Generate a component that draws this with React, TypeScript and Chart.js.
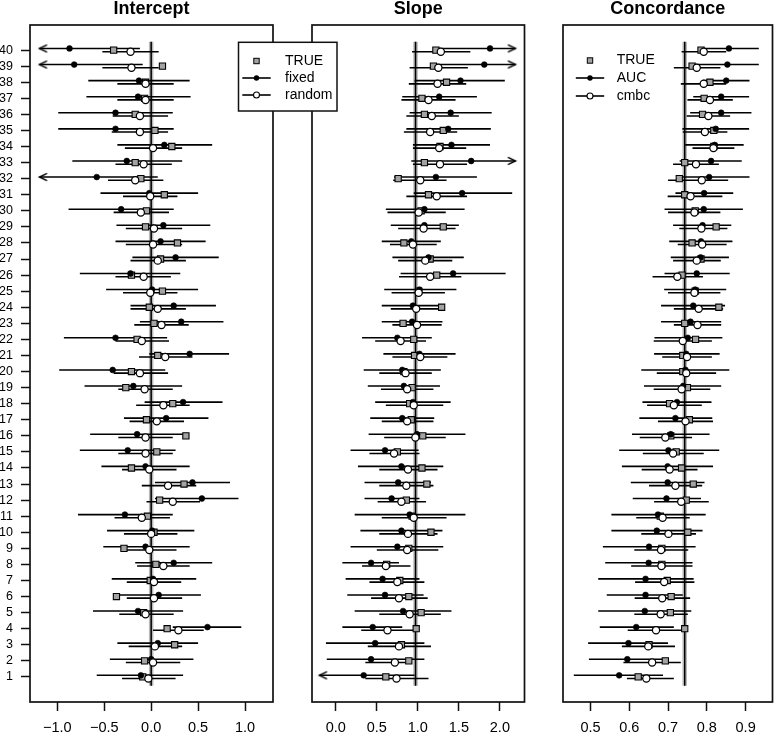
import React, { useEffect, useRef } from 'react';
import { Chart, registerables } from 'chart.js';

Chart.register(...registerables);

const FONT = "'Liberation Sans', Arial, Helvetica, sans-serif";
Chart.defaults.font.family = FONT;
Chart.defaults.color = '#000';

// ---------- categories (study rows, bottom to top) ----------
const rows = [1, 2, 3, 4, 5, 6, 7, 8, 9, 10, 11, 12, 13, 14, 15, 16, 17, 18, 19, 20,
  21, 22, 23, 24, 25, 26, 27, 28, 29, 30, 31, 32, 33, 34, 35, 36, 37, 38, 39, 40];

// ---------- Intercept ----------
const interceptTicks = [-1.0, -0.5, 0.0, 0.5, 1.0];
const interceptTrue = [-0.09, -0.07, 0.25, 0.17, -0.08, -0.37, -0.01, 0.05, -0.29, 0.03,
  -0.04, 0.09, 0.35, -0.21, 0.06, 0.37, -0.05, 0.23, -0.27, -0.21,
  0.07, -0.15, 0.03, -0.02, 0.12, -0.21, 0.10, 0.28, -0.06, -0.05,
  0.14, -0.11, -0.17, 0.22, 0.04, -0.17, -0.07, -0.06, 0.12, -0.40];
const interceptFixed = [-0.11, 0.00, 0.07, 0.60, -0.14, 0.08, 0.02, 0.24, -0.06, 0.01,
  -0.28, 0.54, 0.44, -0.06, -0.25, -0.15, 0.16, 0.34, -0.19, -0.41,
  0.41, -0.38, 0.32, 0.24, 0.01, -0.22, 0.26, 0.10, 0.13, -0.32,
  -0.02, -0.58, -0.26, 0.14, -0.38, -0.38, -0.14, -0.13, -0.82, -0.87];
const interceptFixedLo = [-0.58, -0.44, -0.36, 0.23, -0.62, -0.38, -0.42, -0.17, -0.51, -0.47,
  -0.78, 0.04, 0.04, -0.53, -0.76, -0.65, -0.29, -0.07, -0.71, -0.98,
  -0.02, -0.93, -0.12, -0.22, -0.48, -0.76, -0.20, -0.38, -0.37, -0.88,
  -0.54, -1.19, -0.84, -0.36, -0.99, -0.99, -0.69, -0.67, -1.19, -1.19];
const interceptFixedHi = [0.34, 0.45, 0.50, 0.96, 0.34, 0.53, 0.48, 0.65, 0.41, 0.46,
  0.23, 0.93, 0.84, 0.41, 0.26, 0.37, 0.61, 0.76, 0.33, 0.15,
  0.83, 0.17, 0.77, 0.69, 0.50, 0.31, 0.72, 0.58, 0.63, 0.24,
  0.50, 0.07, 0.33, 0.65, 0.24, 0.23, 0.42, 0.41, -0.09, -0.12];
const interceptRandom = [-0.03, 0.02, 0.04, 0.29, -0.06, 0.03, 0.03, 0.13, -0.02, 0.00,
  -0.10, 0.23, 0.18, -0.02, -0.06, -0.06, 0.06, 0.13, -0.07, -0.12,
  0.15, -0.10, 0.11, 0.07, -0.01, -0.08, 0.07, 0.02, 0.03, -0.11,
  -0.01, -0.17, -0.08, 0.02, -0.12, -0.12, -0.06, -0.06, -0.21, -0.22];
const interceptRandomLo = [-0.31, -0.27, -0.24, 0.02, -0.34, -0.26, -0.26, -0.15, -0.30, -0.29,
  -0.39, -0.05, -0.10, -0.31, -0.35, -0.35, -0.23, -0.16, -0.35, -0.40,
  -0.13, -0.38, -0.18, -0.22, -0.30, -0.38, -0.22, -0.27, -0.27, -0.40,
  -0.30, -0.46, -0.38, -0.28, -0.42, -0.41, -0.36, -0.36, -0.52, -0.52];
const interceptRandomHi = [0.26, 0.31, 0.33, 0.56, 0.24, 0.33, 0.32, 0.41, 0.27, 0.28,
  0.20, 0.52, 0.48, 0.27, 0.23, 0.23, 0.35, 0.41, 0.23, 0.18,
  0.44, 0.19, 0.40, 0.37, 0.28, 0.21, 0.37, 0.33, 0.33, 0.19,
  0.28, 0.13, 0.22, 0.33, 0.18, 0.18, 0.24, 0.24, 0.08, 0.08];
const interceptArrows = [{ row: 32, side: 'left' }, { row: 39, side: 'left' }, { row: 40, side: 'left' }];

// ---------- Slope ----------
const slopeTicks = [0.0, 0.5, 1.0, 1.5, 2.0];
const slopeTrue = [0.61, 0.89, 0.80, 0.98, 1.04, 0.89, 0.78, 0.62, 0.89, 1.16,
  0.93, 0.86, 1.11, 1.05, 0.75, 1.06, 0.92, 0.90, 0.93, 0.83,
  0.96, 0.95, 0.82, 1.29, 1.01, 1.23, 1.15, 0.83, 1.31, 1.04,
  1.13, 0.76, 1.08, 1.27, 1.31, 1.08, 1.05, 1.35, 1.19, 1.22];
const slopeFixed = [0.34, 0.43, 0.48, 0.45, 0.82, 0.60, 0.57, 0.43, 0.75, 0.80,
  0.90, 0.68, 0.76, 0.80, 0.60, 0.99, 0.81, 0.94, 0.83, 0.81,
  1.02, 0.75, 0.93, 0.94, 1.02, 1.43, 1.13, 0.92, 1.08, 1.08,
  1.54, 1.22, 1.65, 1.41, 1.37, 1.40, 1.26, 1.52, 1.81, 1.88];
const slopeFixedLo = [-0.20, -0.11, -0.12, 0.08, 0.23, 0.14, 0.12, 0.08, 0.18, 0.30,
  0.23, 0.35, 0.35, 0.27, 0.18, 0.40, 0.42, 0.48, 0.39, 0.34,
  0.58, 0.32, 0.56, 0.56, 0.59, 0.79, 0.69, 0.56, 0.67, 0.61,
  0.95, 0.71, 0.92, 0.94, 0.86, 0.90, 0.81, 0.96, 1.18, 1.24];
const slopeFixedHi = [0.96, 1.08, 1.08, 0.81, 1.41, 1.07, 1.02, 0.77, 1.31, 1.30,
  1.58, 1.02, 1.16, 1.31, 1.01, 1.58, 1.20, 1.40, 1.27, 1.28,
  1.46, 1.17, 1.30, 1.30, 1.47, 2.07, 1.56, 1.28, 1.50, 1.57,
  2.15, 1.72, 2.19, 1.88, 1.89, 1.90, 1.72, 2.06, 2.19, 2.19];
const slopeRandom = [0.74, 0.72, 0.77, 0.63, 0.90, 0.77, 0.75, 0.61, 0.87, 0.88,
  0.95, 0.80, 0.86, 0.88, 0.71, 0.97, 0.87, 0.95, 0.87, 0.85,
  1.03, 0.79, 0.99, 0.98, 1.01, 1.15, 1.09, 0.94, 1.07, 1.01,
  1.23, 1.03, 1.27, 1.26, 1.15, 1.17, 1.13, 1.24, 1.25, 1.28];
const slopeRandomLo = [0.36, 0.36, 0.39, 0.31, 0.53, 0.43, 0.41, 0.32, 0.50, 0.53,
  0.56, 0.51, 0.53, 0.53, 0.41, 0.59, 0.56, 0.61, 0.55, 0.53,
  0.69, 0.48, 0.69, 0.67, 0.68, 0.77, 0.76, 0.66, 0.76, 0.63,
  0.86, 0.70, 0.94, 0.94, 0.83, 0.86, 0.80, 0.89, 0.90, 0.93];
const slopeRandomHi = [1.13, 0.93, 1.16, 1.00, 1.28, 1.12, 1.08, 0.91, 1.25, 1.24,
  1.35, 1.10, 1.19, 1.24, 1.02, 1.34, 1.19, 1.31, 1.19, 1.17,
  1.36, 1.10, 1.29, 1.32, 1.33, 1.53, 1.42, 1.23, 1.46, 1.34,
  1.60, 1.35, 1.60, 1.59, 1.48, 1.50, 1.46, 1.59, 1.61, 1.64];
const slopeArrows = [{ row: 1, side: 'left' }, { row: 33, side: 'right' }, { row: 39, side: 'right' }, { row: 40, side: 'right' }];

// ---------- Concordance ----------
const concTicks = [0.5, 0.6, 0.7, 0.8, 0.9];
const concTrue = [0.623, 0.693, 0.651, 0.743, 0.706, 0.708, 0.698, 0.684, 0.684, 0.751,
  0.680, 0.747, 0.765, 0.735, 0.721, 0.707, 0.755, 0.704, 0.750, 0.738,
  0.738, 0.771, 0.743, 0.831, 0.770, 0.736, 0.785, 0.762, 0.824, 0.770,
  0.743, 0.729, 0.743, 0.818, 0.818, 0.789, 0.793, 0.808, 0.762, 0.785];
const concAuc = [0.574, 0.595, 0.598, 0.618, 0.640, 0.642, 0.642, 0.650, 0.651, 0.671,
  0.674, 0.696, 0.699, 0.699, 0.701, 0.707, 0.719, 0.723, 0.739, 0.745,
  0.747, 0.751, 0.758, 0.765, 0.770, 0.774, 0.784, 0.785, 0.789, 0.792,
  0.793, 0.806, 0.811, 0.820, 0.823, 0.837, 0.837, 0.850, 0.853, 0.857];
const concAucLo = [0.457, 0.496, 0.494, 0.524, 0.520, 0.542, 0.520, 0.538, 0.532, 0.554,
  0.554, 0.609, 0.604, 0.581, 0.574, 0.607, 0.626, 0.634, 0.638, 0.631,
  0.664, 0.665, 0.682, 0.682, 0.690, 0.691, 0.707, 0.703, 0.713, 0.691,
  0.719, 0.725, 0.730, 0.744, 0.737, 0.757, 0.765, 0.790, 0.772, 0.780];
const concAucHi = [0.687, 0.699, 0.700, 0.715, 0.760, 0.738, 0.766, 0.763, 0.771, 0.789,
  0.797, 0.785, 0.794, 0.816, 0.832, 0.807, 0.814, 0.812, 0.837, 0.858,
  0.833, 0.840, 0.837, 0.847, 0.850, 0.859, 0.857, 0.866, 0.863, 0.893,
  0.868, 0.910, 0.890, 0.895, 0.909, 0.915, 0.909, 0.910, 0.934, 0.934];
const concCmbc = [0.644, 0.659, 0.649, 0.669, 0.681, 0.685, 0.690, 0.683, 0.682, 0.701,
  0.686, 0.734, 0.719, 0.704, 0.713, 0.693, 0.745, 0.715, 0.735, 0.747,
  0.749, 0.738, 0.776, 0.779, 0.768, 0.724, 0.774, 0.788, 0.786, 0.768,
  0.758, 0.787, 0.772, 0.817, 0.795, 0.804, 0.808, 0.792, 0.774, 0.792];
const concCmbcLo = [0.594, 0.585, 0.581, 0.596, 0.613, 0.614, 0.615, 0.605, 0.613, 0.631,
  0.618, 0.664, 0.651, 0.632, 0.635, 0.627, 0.674, 0.646, 0.663, 0.671,
  0.685, 0.663, 0.715, 0.715, 0.700, 0.660, 0.713, 0.725, 0.729, 0.700,
  0.699, 0.700, 0.713, 0.763, 0.738, 0.748, 0.750, 0.733, 0.715, 0.735];
const concCmbcHi = [0.715, 0.733, 0.718, 0.742, 0.751, 0.757, 0.768, 0.763, 0.752, 0.772,
  0.756, 0.805, 0.788, 0.776, 0.792, 0.762, 0.816, 0.787, 0.809, 0.824,
  0.813, 0.813, 0.837, 0.842, 0.835, 0.790, 0.836, 0.851, 0.853, 0.835,
  0.840, 0.855, 0.831, 0.871, 0.853, 0.860, 0.867, 0.850, 0.835, 0.850];
const concArrows: { row: number; side: string }[] = [];

// ---------- styling constants ----------
const SQUARE_FILL = '#a3a3a3';
const ROW_OFFSET = 0.1;
const Y_MIN = -0.56;
const Y_MAX = 41.56;
const REF_Y0 = 0.45;
const REF_Y1 = 40.52;

interface PanelDef {
  title: string;
  xMin: number;
  xMax: number;
  ticks: number[];
  ref: number;
  truth: number[];
  est1: number[];
  lo1: number[];
  hi1: number[];
  est2: number[];
  lo2: number[];
  hi2: number[];
  arrows: { row: number; side: string }[];
  legend: string[];
  legendBoxed: boolean;
  showRows: boolean;
  canvasLeft: number;
  canvasWidth: number;
  padLeft: number;
  padRight: number;
  z: number;
}

const panels: PanelDef[] = [
  {
    title: 'Intercept', xMin: -1.291, xMax: 1.298, ticks: interceptTicks, ref: 0,
    truth: interceptTrue, est1: interceptFixed, lo1: interceptFixedLo, hi1: interceptFixedHi,
    est2: interceptRandom, lo2: interceptRandomLo, hi2: interceptRandomHi, arrows: interceptArrows,
    legend: ['TRUE', 'fixed', 'random'], legendBoxed: true, showRows: true,
    canvasLeft: 0, canvasWidth: 340, padLeft: 0, padRight: 67, z: 3,
  },
  {
    title: 'Slope', xMin: -0.29, xMax: 2.3, ticks: slopeTicks, ref: 0.972,
    truth: slopeTrue, est1: slopeFixed, lo1: slopeFixedLo, hi1: slopeFixedHi,
    est2: slopeRandom, lo2: slopeRandomLo, hi2: slopeRandomHi, arrows: slopeArrows,
    legend: [], legendBoxed: false, showRows: false,
    canvasLeft: 276, canvasWidth: 254, padLeft: 6, padRight: 4, z: 1,
  },
  {
    title: 'Concordance', xMin: 0.4292, xMax: 0.9693, ticks: concTicks, ref: 0.743,
    truth: concTrue, est1: concAuc, lo1: concAucLo, hi1: concAucHi,
    est2: concCmbc, lo2: concCmbcLo, hi2: concCmbcHi, arrows: concArrows,
    legend: ['TRUE', 'AUC', 'cmbc'], legendBoxed: false, showRows: false,
    canvasLeft: 527, canvasWidth: 251, padLeft: 6, padRight: 1, z: 2,
  },
];

function fmtTick(v: number): string {
  return Number(v).toFixed(1).replace('-', '\u2212');
}

function segments(lo: number[], hi: number[], off: number) {
  const d: { x: number | null; y: number | null }[] = [];
  rows.forEach((r, i) => {
    d.push({ x: lo[i], y: r + off }, { x: hi[i], y: r + off }, { x: null, y: null });
  });
  return d;
}

function makeArrowImage(): HTMLCanvasElement {
  const c = document.createElement('canvas');
  c.width = 24;
  c.height = 12;
  const g = c.getContext('2d')!;
  g.strokeStyle = '#000';
  g.lineWidth = 1.5;
  g.lineCap = 'round';
  g.lineJoin = 'miter';
  g.beginPath();
  g.moveTo(19, 2.6);
  g.lineTo(12, 6);
  g.lineTo(19, 9.4);
  g.stroke();
  return c;
}

const boxPlugin = {
  id: 'panelBox',
  afterDatasetsDraw(chart: any) {
    const { ctx, chartArea } = chart;
    ctx.save();
    ctx.strokeStyle = '#111';
    ctx.lineWidth = 1.7;
    ctx.strokeRect(chartArea.left, chartArea.top, chartArea.right - chartArea.left, chartArea.bottom - chartArea.top);
    ctx.restore();
  },
};

function drawLegendEntries(ctx: CanvasRenderingContext2D, symX: number, halfLine: number, textX: number, ys: number[], labels: string[]) {
  ctx.save();
  // square
  ctx.fillStyle = SQUARE_FILL;
  ctx.strokeStyle = '#000';
  ctx.lineWidth = 1;
  ctx.fillRect(symX - 2.7, ys[0] - 2.7, 5.4, 5.4);
  ctx.strokeRect(symX - 2.7, ys[0] - 2.7, 5.4, 5.4);
  // line + dot
  ctx.lineWidth = 1.6;
  ctx.beginPath();
  ctx.moveTo(symX - halfLine, ys[1]);
  ctx.lineTo(symX + halfLine, ys[1]);
  ctx.stroke();
  ctx.beginPath();
  ctx.arc(symX, ys[1], 2.7, 0, Math.PI * 2);
  ctx.fillStyle = '#000';
  ctx.fill();
  // line + circle
  ctx.beginPath();
  ctx.moveTo(symX - halfLine, ys[2]);
  ctx.lineTo(symX + halfLine, ys[2]);
  ctx.stroke();
  ctx.beginPath();
  ctx.arc(symX, ys[2], 3.0, 0, Math.PI * 2);
  ctx.fillStyle = '#fff';
  ctx.fill();
  ctx.lineWidth = 1.1;
  ctx.stroke();
  // labels
  ctx.fillStyle = '#000';
  ctx.font = `14px ${FONT}`;
  ctx.textAlign = 'left';
  ctx.textBaseline = 'middle';
  labels.forEach((t, i) => ctx.fillText(t, textX, ys[i]));
  ctx.restore();
}

function makeLegendPlugin(def: PanelDef) {
  return {
    id: 'forestLegend',
    afterDraw(chart: any) {
      if (!def.legend.length) return;
      const { ctx, chartArea } = chart;
      if (def.legendBoxed) {
        const bx = chartArea.right - 34.5;
        const by = chartArea.top + 17.3;
        ctx.save();
        ctx.fillStyle = '#fff';
        ctx.fillRect(bx, by, 98.5, 68.7);
        ctx.strokeStyle = '#111';
        ctx.lineWidth = 1.5;
        ctx.strokeRect(bx, by, 98.5, 68.7);
        ctx.restore();
        const top = chartArea.top;
        drawLegendEntries(ctx, chartArea.right - 16.5, 14.2, chartArea.right + 12, [top + 36, top + 53, top + 70], def.legend);
      } else {
        const top = chartArea.top;
        drawLegendEntries(ctx, chartArea.left + 27, 14.2, chartArea.left + 53.7, [top + 35.5, top + 53, top + 71], def.legend);
      }
    },
  };
}

function buildChart(canvas: HTMLCanvasElement, def: PanelDef, arrowImg: HTMLCanvasElement) {
  const lineDs = (data: any[], order: number) => ({
    type: 'scatter' as const,
    data,
    showLine: true,
    spanGaps: false,
    borderColor: '#000',
    borderWidth: 1.6,
    pointRadius: 0,
    pointHoverRadius: 0,
    fill: false,
    order,
  });

  const datasets: any[] = [
    {
      ...lineDs([{ x: def.ref, y: REF_Y0 }, { x: def.ref, y: REF_Y1 }], 10),
      borderColor: '#b8b8b8',
      borderWidth: 4.5,
    },
    {
      ...lineDs([{ x: def.ref, y: REF_Y0 }, { x: def.ref, y: REF_Y1 }], 9),
      borderWidth: 1.5,
    },
    lineDs(segments(def.lo1, def.hi1, ROW_OFFSET), 8),
    lineDs(segments(def.lo2, def.hi2, -ROW_OFFSET), 7),
    {
      type: 'scatter',
      data: def.arrows.map((a) => ({
        x: a.side === 'left' ? def.lo1[a.row - 1] : def.hi1[a.row - 1],
        y: a.row + ROW_OFFSET,
      })),
      pointStyle: arrowImg,
      pointRadius: 4,
      pointRotation: def.arrows.map((a) => (a.side === 'right' ? 180 : 0)),
      order: 6,
    },
    {
      type: 'scatter',
      data: rows.map((r, i) => ({ x: def.truth[i], y: r })),
      pointStyle: 'rect',
      pointRadius: 4.4,
      pointBackgroundColor: SQUARE_FILL,
      pointBorderColor: '#000',
      pointBorderWidth: 1.1,
      order: 5,
    },
    {
      type: 'scatter',
      data: rows.map((r, i) => ({ x: def.est1[i], y: r + ROW_OFFSET })),
      pointStyle: 'circle',
      pointRadius: 2.9,
      pointBackgroundColor: '#000',
      pointBorderColor: '#000',
      pointBorderWidth: 0.6,
      order: 4,
    },
    {
      type: 'scatter',
      data: rows.map((r, i) => ({ x: def.est2[i], y: r - ROW_OFFSET })),
      pointStyle: 'circle',
      pointRadius: 3.6,
      pointBackgroundColor: '#fff',
      pointBorderColor: '#000',
      pointBorderWidth: 1.25,
      order: 3,
    },
  ];

  return new Chart(canvas, {
    type: 'scatter',
    data: { datasets },
    options: {
      responsive: false,
      animation: false,
      events: [],
      layout: { padding: { left: def.padLeft, right: def.padRight, top: 0, bottom: 0 } },
      plugins: {
        legend: { display: false },
        tooltip: { enabled: false },
        title: {
          display: true,
          text: def.title,
          fullSize: false,
          color: '#000',
          font: { family: FONT, size: 18, weight: 'bold', lineHeight: 1 },
          padding: { top: 0, bottom: 7 },
        },
      },
      scales: {
        x: {
          type: 'linear',
          min: def.xMin,
          max: def.xMax,
          afterBuildTicks: (scale: any) => {
            scale.ticks = def.ticks.map((v) => ({ value: v }));
          },
          afterFit: (scale: any) => {
            scale.height = 32;
          },
          ticks: {
            callback: (v: any) => fmtTick(v),
            color: '#000',
            font: { family: FONT, size: 14.5 },
            padding: 8.5,
            maxRotation: 0,
            autoSkip: false,
          },
          grid: {
            drawOnChartArea: false,
            drawTicks: true,
            tickLength: 9,
            tickColor: '#111',
            tickWidth: 1.5,
          },
          border: { display: false },
        },
        y: {
          type: 'linear',
          display: def.showRows,
          min: Y_MIN,
          max: Y_MAX,
          afterBuildTicks: (scale: any) => {
            scale.ticks = rows.map((v) => ({ value: v }));
          },
          afterFit: (scale: any) => {
            scale.width = 30;
          },
          ticks: {
            callback: (v: any) => String(v),
            color: '#000',
            font: { family: FONT, size: 12.5 },
            padding: 8,
            autoSkip: false,
          },
          grid: {
            drawOnChartArea: false,
            drawTicks: true,
            tickLength: 9,
            tickColor: '#111',
            tickWidth: 1.5,
          },
          border: { display: false },
        },
      },
    } as any,
    plugins: [boxPlugin, makeLegendPlugin(def)],
  } as any);
}

function Panel({ def }: { def: PanelDef }) {
  const ref = useRef<HTMLCanvasElement | null>(null);
  useEffect(() => {
    if (!ref.current) return;
    const chart = buildChart(ref.current, def, makeArrowImage());
    return () => chart.destroy();
  }, [def]);
  return (
    <canvas
      ref={ref}
      width={def.canvasWidth}
      height={734}
      style={{
        position: 'absolute',
        left: def.canvasLeft,
        top: 0,
        width: def.canvasWidth,
        height: 734,
        zIndex: def.z,
      }}
    />
  );
}

export default function App() {
  return (
    <div style={{ position: 'absolute', left: 0, top: 0, width: 778, height: 734, background: '#fff', overflow: 'hidden' }}>
      {panels.map((p) => (
        <Panel key={p.title} def={p} />
      ))}
    </div>
  );
}
